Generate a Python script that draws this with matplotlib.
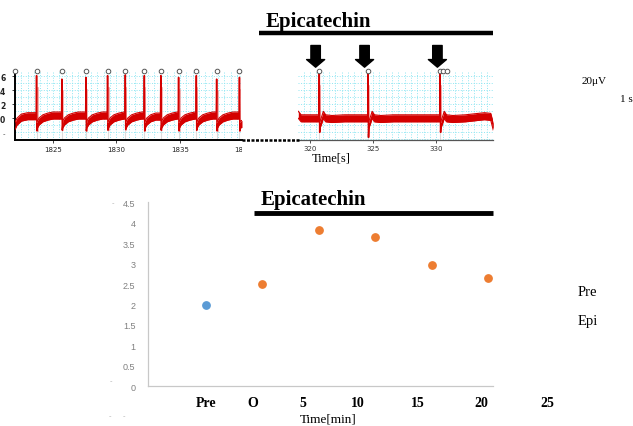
import numpy as np
import matplotlib
matplotlib.use("Agg")
import matplotlib.pyplot as plt
from matplotlib.lines import Line2D
from matplotlib.transforms import Bbox, TransformedBbox, blended_transform_factory

# ---------------- data ----------------
# ECG trace, left segment (before epicatechin)
left_beats = [1823.7, 1825.7, 1827.6, 1829.3, 1830.7, 1832.2, 1833.5, 1834.9, 1836.3, 1837.9, 1839.7]
left_peaks = [6.1, 5.6, 5.85, 6.1, 6.2, 6.1, 6.1, 5.85, 6.1, 5.6, 5.85]
left_troughs = [-1.8, -1.7, -1.8, -1.7, -1.6, -1.8, -1.7, -1.8, -1.7, -1.8, -1.8]
left_circles = [1822.0, 1823.7, 1825.7, 1827.6, 1829.3, 1830.7, 1832.2, 1833.5, 1834.9, 1836.3, 1837.9, 1839.7]
left_start_t = [1822.0, 1822.15, 1822.5, 1823.0]
left_start_v = [-1.1, -0.5, 0.1, 0.3]
left_tmpl_off = [0.06, 0.2, 0.5, 0.9, 1.3]
left_tmpl_val = [-0.9, -0.45, 0.0, 0.25, 0.4]
left_range = [1822.0, 1839.9]

# ECG trace, right segment (during epicatechin)
right_beats = [320.74, 324.6, 330.3]
right_peaks = [6.5, 6.5, 6.5]
right_troughs = [-2.0, -2.7, -2.0]
right_circles = [320.74, 324.6, 330.3, 330.55, 330.8]
right_start_t = [319.08, 319.3, 319.8]
right_start_v = [0.5, 0.0, 0.0]
right_tmpl_off = [0.06, 0.2, 0.32, 0.5, 1.0, 2.0]
right_tmpl_val = [-0.9, -0.2, 0.5, 0.0, -0.1, 0.0]
right_end_t = [333.8, 334.3, 334.5]
right_end_v = [0.3, 0.2, -1.2]
right_range = [319.08, 334.5]
arrow_times = [320.45, 324.32, 330.08]

# Scatter chart
pre_x = [1]
pre_y = [2.0]
epi_x = [2, 3, 4, 5, 6]
epi_y = [2.5, 3.82, 3.65, 2.97, 2.66]
y_ticks = [0, 0.5, 1, 1.5, 2, 2.5, 3, 3.5, 4, 4.5]
y_ticklabels = ['0', '0.5', '1', '1.5', '2', '2.5', '3', '3.5', '4', '4.5']
x_labels = ['Pre', 'O', '5', '10', '15', '20', '25']
x_label_pos = [1.0, 1.82, 2.72, 3.69, 4.76, 5.89, 7.06]

# ---------------- helpers ----------------
W, H = 633, 427
def fx(p):
    return p / W
def fy(p):
    return 1 - p / H

RED = '#d40000'
GRIDC = '#8fe6f2'
HALF = 0.5  # half thickness of the noisy baseline band

def build_band(start_t, start_v, beats, off, val, end_t, end_v, tend):
    segs = []
    cur_t = list(start_t)
    cur_v = list(start_v)
    for i, b in enumerate(beats):
        cur_t.append(b - 0.03)
        cur_v.append(cur_v[-1])
        segs.append((cur_t, cur_v))
        nxt = beats[i + 1] if i + 1 < len(beats) else tend
        cur_t, cur_v = [], []
        for o, v in zip(off, val):
            if b + o < nxt - 0.05:
                cur_t.append(b + o)
                cur_v.append(v)
    for t, v in zip(end_t, end_v):
        if not cur_t or t > cur_t[-1]:
            cur_t.append(t)
            cur_v.append(v)
    segs.append((cur_t, cur_v))
    return segs

def draw_trace(ax, segs, beats, peaks, troughs, ymin):
    for t, v in segs:
        if len(t) > 1:
            t = np.asarray(t)
            v = np.asarray(v)
            ax.fill_between(t, v - HALF, v + HALF, color=RED, lw=0, zorder=3)
            ax.plot(t, v + HALF, color=RED, lw=0.8, zorder=3)
            ax.plot(t, v - HALF, color=RED, lw=0.8, zorder=3)
    for b, p, tr in zip(beats, peaks, troughs):
        ax.plot([b, b], [ymin, tr], color='#dcdcdc', lw=0.8, zorder=2)
        ax.plot([b + 0.08, b + 0.08], [tr, p * 0.7], color='#f2a6a6', lw=1.2, zorder=2)
        ax.plot([b - 0.03, b, b + 0.03, b + 0.08], [0.3, p, tr, -0.8], color=RED, lw=1.1, zorder=4)

fig = plt.figure(figsize=(W / 100, H / 100), dpi=100)

ylo, yhi = -3.1, 6.8

# ---------------- left trace ----------------
ax1 = fig.add_axes([fx(15), fy(141), fx(227), 69.3 / H])
segs = build_band(left_start_t, left_start_v, left_beats, left_tmpl_off, left_tmpl_val,
                  [left_range[1]], [-0.8], left_range[1])
draw_trace(ax1, segs, left_beats, left_peaks, left_troughs, ylo)
ax1.plot(left_circles, [6.72] * len(left_circles), 'o', mfc='white', mec='#555555',
         ms=3.3, mew=0.7, clip_on=False, zorder=6)
ax1.set_xlim(left_range)
ax1.set_ylim(ylo, yhi)
ax1.set_xticks([1825, 1830, 1835])
ax1.set_xticklabels(['1825', '1830', '1835'])
ax1.set_xticks(np.arange(1822, 1840, 0.5), minor=True)
ax1.set_yticks([0, 2, 4, 6])
ax1.set_yticks(np.arange(-3, 7, 1), minor=True)
ax1.grid(which='both', color=GRIDC, ls=':', lw=0.7, zorder=0)
ax1.tick_params(axis='both', which='major', labelsize=5, length=2, width=0.6, colors='#222222')
ax1.tick_params(axis='x', which='major', pad=2)
ax1.tick_params(axis='y', which='major', pad=5)
ax1.tick_params(which='minor', length=0)
for lbl in ax1.get_yticklabels():
    lbl.set_fontweight('bold')
    lbl.set_fontsize(5.5)
for s in ['top', 'right']:
    ax1.spines[s].set_visible(False)
ax1.spines['left'].set_linewidth(1.4)
ax1.spines['bottom'].set_linewidth(1.4)
t18 = ax1.text(1840, -0.09, '1840', transform=ax1.get_xaxis_transform(), ha='center', va='top',
               fontsize=5, color='#222222')
t18.set_clip_on(True)
t18.set_clip_box(TransformedBbox(Bbox([[0, 0], [fx(242), 1]]), fig.transFigure))
ax1.text(-0.045, 0.1, '-', transform=ax1.transAxes, fontsize=5, color='#444444', ha='right', va='center')

# dashed break line between traces
fig.add_artist(Line2D([fx(242), fx(300)], [fy(140.6), fy(140.6)], color='black', lw=1.8,
                      ls=(0, (1.2, 0.6)), transform=fig.transFigure))

# ---------------- right trace ----------------
ax2 = fig.add_axes([fx(298.3), fy(141), fx(195), 69.3 / H])
segs = build_band(right_start_t, right_start_v, right_beats, right_tmpl_off, right_tmpl_val,
                  right_end_t, right_end_v, right_range[1])
draw_trace(ax2, segs, right_beats, right_peaks, right_troughs, ylo)
ax2.plot(right_circles, [6.72] * len(right_circles), 'o', mfc='white', mec='#555555',
         ms=3.3, mew=0.7, clip_on=False, zorder=6)
ax2.set_xlim(right_range)
ax2.set_ylim(ylo, yhi)
ax2.set_xticks([320, 325, 330])
ax2.set_xticks(np.arange(319.5, 334.6, 0.5), minor=True)
ax2.set_yticks([])
ax2.set_yticks(np.arange(-3, 7, 1), minor=True)
ax2.grid(which='both', color=GRIDC, ls=':', lw=0.7, zorder=0)
ax2.tick_params(axis='x', which='major', labelsize=5, length=2, width=0.6, colors='#333333', pad=1.5)
ax2.tick_params(which='minor', length=0)
for s in ['top', 'right', 'left']:
    ax2.spines[s].set_visible(False)
ax2.spines['bottom'].set_color('#555555')
ax2.spines['bottom'].set_linewidth(0.9)
for t in arrow_times:
    ax2.annotate('', xy=(t, 7.3), xytext=(t, 10.4), xycoords='data',
                 arrowprops=dict(arrowstyle='simple,head_length=0.55,head_width=1.3,tail_width=0.68',
                                 color='black', shrinkA=0, shrinkB=0),
                 annotation_clip=False)

# ---------------- scatter chart ----------------
ax3 = fig.add_axes([fx(148), fy(387.3), fx(345), 184 / H])
ax3.scatter(pre_x, pre_y, s=28, color='#5b9bd5', zorder=3, label='Pre')
ax3.scatter(epi_x, epi_y, s=28, color='#ed7d31', zorder=3, label='Epi')
ax3.set_xlim(-0.03, 6.09)
ax3.set_ylim(0, 4.5)
ax3.set_yticks(y_ticks)
ax3.set_yticklabels(y_ticklabels)
ax3.set_xticks([])
ax3.tick_params(axis='y', length=0, pad=9, labelsize=6.5, colors='#808080')
for lbl in ax3.get_yticklabels():
    lbl.set_family(['Liberation Sans'])
for s in ['top', 'right']:
    ax3.spines[s].set_visible(False)
ax3.spines['left'].set_color('#c8c8c8')
ax3.spines['bottom'].set_color('#c8c8c8')
ax3.spines['left'].set_linewidth(0.9)
ax3.spines['bottom'].set_linewidth(0.9)
lab_tr = blended_transform_factory(ax3.transData, fig.transFigure)
for lab, pos in zip(x_labels, x_label_pos):
    ax3.text(pos, fy(403.5), lab, transform=lab_tr,
             ha='center', va='center', fontsize=10, fontweight='bold',
             family=['Liberation Serif'], clip_on=False)

# ---------------- texts & bars ----------------
serif = ['Liberation Serif']
fig.text(fx(266), fy(21.5), 'Epicatechin', fontsize=15, fontweight='bold', family=serif,
         ha='left', va='center')
fig.add_artist(Line2D([fx(259), fx(493)], [fy(34.3), fy(34.3)], color='black', lw=3.2,
                      transform=fig.transFigure, solid_capstyle='butt'))
fig.text(fx(261), fy(200.5), 'Epicatechin', fontsize=15, fontweight='bold', family=serif,
         ha='left', va='center')
fig.add_artist(Line2D([fx(254), fx(493)], [fy(214.3), fy(214.3)], color='black', lw=3.5,
                      transform=fig.transFigure, solid_capstyle='butt'))

fig.text(fx(331), fy(159), 'Time[s]', fontsize=9, family=serif, ha='center', va='center')
fig.text(fx(328), fy(420), 'Time[min]', fontsize=9.5, family=serif, ha='center', va='center')
fig.text(fx(582), fy(82), '20\u03bcV', fontsize=8, family=serif, ha='left', va='center')
fig.text(fx(620), fy(100), '1 s', fontsize=8, family=serif, ha='left', va='center')
fig.text(fx(578), fy(293), 'Pre', fontsize=10.5, family=serif, ha='left', va='center')
fig.text(fx(578), fy(322), 'Epi', fontsize=10.5, family=serif, ha='left', va='center')

for (xx, yy) in [(113, 203), (111, 381), (110, 416), (124, 416)]:
    fig.text(fx(xx), fy(yy), '-', fontsize=5, color='#b0b0b0', ha='center', va='center')

fig.savefig('out.png', dpi=100)
